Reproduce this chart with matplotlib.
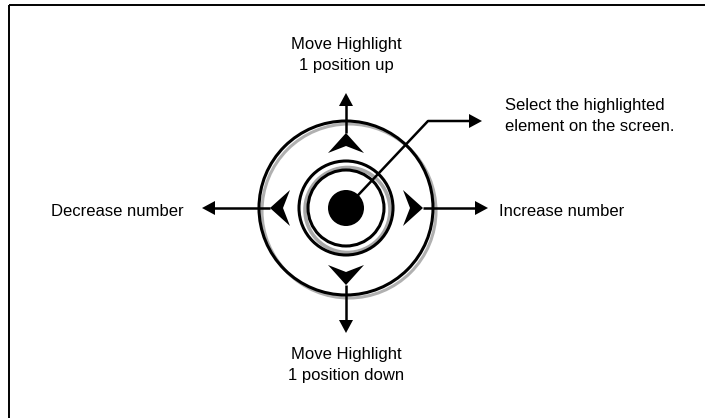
import numpy as np
import matplotlib.pyplot as plt
from matplotlib.patches import Circle, Polygon, Rectangle
from matplotlib import font_manager

# diagram geometry (pixel coords, y down)
center = (346, 208)
ring_radii = [87, 47, 38]
dot_radius = 18

labels = ["Move Highlight\n1 position up", "Move Highlight\n1 position down",
          "Decrease number", "Increase number",
          "Select the highlighted\nelement on the screen."]
directions = [(0, -1), (0, 1), (-1, 0), (1, 0)]
pad_tips = [133, 285, 270, 423]      # tip of the pad triangles along the axis
arrow_tips = [93, 333, 202, 488]     # end of each outer arrow
select_path = [(346, 208), (428, 121), (482, 121)]

fams = [f.name for f in font_manager.fontManager.ttflist]
font = 'Liberation Sans Narrow' if 'Liberation Sans Narrow' in fams else 'Liberation Sans'
plt.rcParams['font.family'] = [font, 'DejaVu Sans']

fig = plt.figure(figsize=(7.05, 4.18), dpi=100)
ax = fig.add_axes([0, 0, 1, 1])
ax.set_xlim(0, 705)
ax.set_ylim(418, 0)
ax.axis('off')

ax.add_patch(Rectangle((9, 5), 720, 430, fill=False, lw=1.4, ec='black'))


def head(tip, d, length, half, notch):
    tx, ty = tip
    dx, dy = d
    px, py = -dy, dx
    bx, by = tx - dx * length, ty - dy * length
    return [(tx, ty), (bx + px * half, by + py * half),
            (tx - dx * (length - notch), ty - dy * (length - notch)),
            (bx - px * half, by - py * half)]


cx, cy = center
# shadows
ax.add_patch(Circle((cx + 3, cy + 3), ring_radii[0], fill=False, lw=2.2, ec='#b0b0b0'))
ax.add_patch(Circle((cx + 1.5, cy + 2), 42.5, fill=False, lw=2.6, ec='#a8a8a8'))
for r in ring_radii:
    ax.add_patch(Circle(center, r, fill=False, lw=2.2, ec='black'))
ax.add_patch(Circle(center, dot_radius, fc='black', ec='none'))

for d, pt, at in zip(directions, pad_tips, arrow_tips):
    dx, dy = d
    if dx == 0:
        tip = (cx, pt)
        end = (cx, at)
    else:
        tip = (pt, cy)
        end = (at, cy)
    # pad triangle (pointing outward)
    ax.add_patch(Polygon(head(tip, d, 20, 18, 7), closed=True, fc='black', ec='none'))
    # line from triangle to outer arrow
    ax.plot([tip[0], end[0] - dx * 8], [tip[1], end[1] - dy * 8], color='black', lw=1.8,
            solid_capstyle='butt')
    ax.add_patch(Polygon(head(end, d, 13, 7, 0), closed=True, fc='black', ec='none'))

xs, ys = zip(*select_path)
ax.plot(list(xs[:-1]) + [xs[-1] - 8], list(ys), color='black', lw=1.8, solid_capstyle='butt')
ax.add_patch(Polygon(head(select_path[-1], (1, 0), 13, 7, 0), closed=True, fc='black', ec='none'))

fs = 12
ls = 1.45
ax.text(cx, 55, labels[0], ha='center', va='center', fontsize=fs, linespacing=ls)
ax.text(cx, 365, labels[1], ha='center', va='center', fontsize=fs, linespacing=ls)
ax.text(184, 211, labels[2], ha='right', va='center', fontsize=fs)
ax.text(499, 211, labels[3], ha='left', va='center', fontsize=fs)
ax.text(505, 116, labels[4], ha='left', va='center', fontsize=fs, linespacing=ls)

fig.savefig('out.png', dpi=100)
